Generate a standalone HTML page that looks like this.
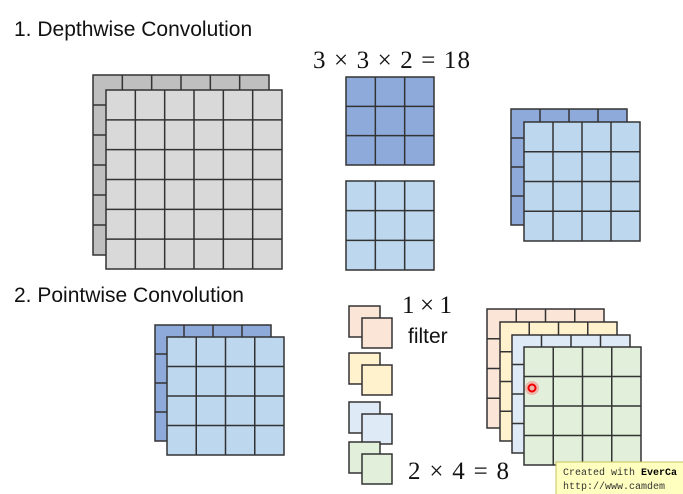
<!DOCTYPE html>
<html><head><meta charset="utf-8"><style>
html,body{margin:0;padding:0;background:#fff;width:683px;height:494px;overflow:hidden}
svg{display:block}
.t{font-family:"Liberation Sans",sans-serif;fill:#111}
.m{font-family:"Liberation Serif",serif;fill:#111}
</style></head><body>
<svg id="s" width="683" height="494" viewBox="0 0 683 494" xmlns="http://www.w3.org/2000/svg">
<g id="g"></g>
<text class="t" x="14" y="36" font-size="21">1. Depthwise Convolution</text>
<text class="m" x="313" y="68" font-size="25" textLength="157" lengthAdjust="spacing">3 × 3 × 2 = 18</text>
<text class="t" x="14" y="302" font-size="21">2. Pointwise Convolution</text>
<text class="m" x="402" y="313" font-size="25" textLength="50" lengthAdjust="spacing">1 × 1</text>
<text class="t" x="408" y="343" font-size="21">filter</text>
<text class="m" x="408" y="479" font-size="25" textLength="101" lengthAdjust="spacing">2 × 4 = 8</text>
<circle cx="532" cy="388" r="7" fill="#ff5050" opacity="0.35"/>
<circle cx="532" cy="388" r="3.5" fill="none" stroke="#e00" stroke-width="2"/>
<rect x="556" y="462" width="130" height="34" fill="#ffffc0" stroke="#c8c060"/>
<text x="563" y="475" font-family="Liberation Mono,monospace" font-size="10" fill="#333">Created with <tspan font-weight="bold" fill="#000">EverCa</tspan></text>
<text x="563" y="489" font-family="Liberation Mono,monospace" font-size="10" fill="#333">http://www.camdem</text>
</svg>
<script>
var g=document.getElementById('g'),h='';
function grid(x,y,w,hh,n,fill){
 h+='<rect x="'+x+'" y="'+y+'" width="'+w+'" height="'+hh+'" fill="'+fill+'" stroke="#333" stroke-width="1.5"/>';
 for(var i=1;i<n;i++){var cx=x+w*i/n,cy=y+hh*i/n;
  h+='<line x1="'+cx+'" y1="'+y+'" x2="'+cx+'" y2="'+(y+hh)+'" stroke="#333" stroke-width="1.5"/>';
  h+='<line x1="'+x+'" y1="'+cy+'" x2="'+(x+w)+'" y2="'+cy+'" stroke="#333" stroke-width="1.5"/>';}
}
grid(93,75,176,180,6,'#bfbfbf');grid(106,90,176,179,6,'#d9d9d9');
grid(346,77,88,88,3,'#8eaadb');grid(346,181,88,89,3,'#bdd7ee');
grid(511,109,116,116,4,'#8eaadb');grid(524,122,116,119,4,'#bdd7ee');
grid(155,325,116,116,4,'#8eaadb');grid(167,337,117,118,4,'#bdd7ee');
var sm=[[306,'#fbe5d6'],[353,'#fff2cc'],[402,'#deebf7'],[442,'#e2efda']];
sm.forEach(function(a){grid(349,a[0],31,31,1,a[1]);grid(362,a[0]+12,30,30,1,a[1]);});
grid(487,309,117,119,4,'#fbe5d6');grid(500,322,117,119,4,'#fff2cc');
grid(512,335,118,118,4,'#deebf7');grid(524,347,117,118,4,'#e2efda');
g.innerHTML=h;
</script>
</body></html>
